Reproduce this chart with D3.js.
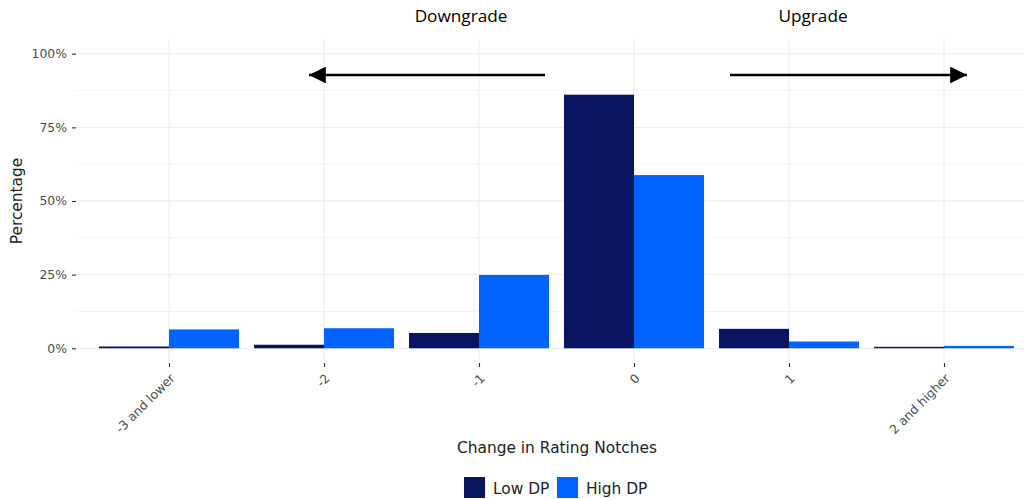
<!DOCTYPE html>
<html><head><meta charset="utf-8">
<script src="https://cdn.jsdelivr.net/npm/d3@7"></script>
<style>body{margin:0;background:#fff}svg{display:block}</style>
</head><body>
<svg id="c" width="1024" height="499"></svg>
<script>
const categories = ["-3 and lower","-2","-1","0","1","2 and higher"];
const series = ["Low DP","High DP"];
const lowDP  = [0.006, 0.012, 0.052, 0.861, 0.066, 0.005];
const highDP = [0.064, 0.068, 0.249, 0.588, 0.023, 0.008];
const yTicks = [0, 0.25, 0.5, 0.75, 1];
const yMinor = [0.125, 0.375, 0.625, 0.875];
const colors = ["#0b1461", "#0062ff"];

const svg = d3.select("#c");
const panel = {left:76, right:1024, top:39, bottom:363};
const x = d3.scalePoint().domain(categories).range([169, 944]);
const xs = d3.scaleBand().domain(series).range([-70, 70]);
const y = d3.scaleLinear().domain([-0.05, 1.05]).range([panel.bottom, panel.top]);
const col = d3.scaleOrdinal().domain(series).range(colors);

// grid
const g = svg.append("g");
g.selectAll(".minor").data(yMinor).join("line")
  .attr("x1", panel.left).attr("x2", panel.right)
  .attr("y1", d=>y(d)).attr("y2", d=>y(d))
  .attr("stroke", "#f4f4f4").attr("stroke-width", 1);
g.selectAll(".major").data(yTicks).join("line")
  .attr("x1", panel.left).attr("x2", panel.right)
  .attr("y1", d=>y(d)).attr("y2", d=>y(d))
  .attr("stroke", "#ebebeb").attr("stroke-width", 1);
g.selectAll(".vx").data(categories).join("line")
  .attr("x1", d=>x(d)).attr("x2", d=>x(d))
  .attr("y1", panel.top).attr("y2", panel.bottom)
  .attr("stroke", "#ebebeb").attr("stroke-width", 1);

// bars
const rows = categories.map((c,i)=>({cat:c, vals:[{s:"Low DP", v:lowDP[i]},{s:"High DP", v:highDP[i]}]}));
svg.append("g").selectAll("g").data(rows).join("g")
  .attr("transform", d=>`translate(${x(d.cat)},0)`)
  .selectAll("rect").data(d=>d.vals).join("rect")
  .attr("x", d=>xs(d.s)).attr("width", xs.bandwidth())
  .attr("y", d=>y(d.v)).attr("height", d=>y(0)-y(d.v))
  .attr("fill", d=>col(d.s));

// y axis
const yAxis = svg.append("g").attr("transform", `translate(${panel.left},0)`)
  .call(d3.axisLeft(y).tickValues(yTicks).tickFormat(d3.format(".0%")).tickSize(4).tickPadding(5));
yAxis.select(".domain").remove();
yAxis.selectAll("line").attr("stroke", "#333").attr("stroke-width", 1.1);
yAxis.selectAll("text").attr("fill", "#4d4d4d").style("font-family", "DejaVu Sans").style("font-size", "12.4px");

// x axis
const xAxis = svg.append("g").attr("transform", `translate(0,${panel.bottom})`)
  .call(d3.axisBottom(x).tickSize(4).tickPadding(3));
xAxis.select(".domain").remove();
xAxis.selectAll("line").attr("stroke", "#333").attr("stroke-width", 1.1);
xAxis.selectAll("text").attr("fill", "#4d4d4d").style("font-family", "DejaVu Sans").style("font-size", "12.4px")
  .attr("text-anchor", "end").attr("dy", "0.35em").attr("y", 0)
  .attr("transform", "translate(3,13) rotate(-45)");

// axis titles
svg.append("text").attr("x", 557).attr("y", 453).attr("text-anchor", "middle")
  .style("font-family", "DejaVu Sans").style("font-size", "15.4px").attr("fill", "#222")
  .text("Change in Rating Notches");
svg.append("text").attr("transform", "translate(22,201) rotate(-90)").attr("text-anchor", "middle")
  .style("font-family", "DejaVu Sans").style("font-size", "15.4px").attr("fill", "#222")
  .text("Percentage");

// legend
const legX = [464, 557];
const leg = svg.append("g").selectAll("g").data(series).join("g")
  .attr("transform", (d,i)=>`translate(${legX[i]},477)`);
leg.append("rect").attr("width", 21).attr("height", 21).attr("fill", d=>col(d));
leg.append("text").attr("x", 29).attr("y", 16.5)
  .style("font-family", "DejaVu Sans").style("font-size", "15.4px").attr("fill", "#222")
  .text(d=>d);

// annotations
const defs = svg.append("defs");
defs.append("marker").attr("id", "ah").attr("viewBox", "0 0 10 10").attr("refX", 10).attr("refY", 5)
  .attr("markerWidth", 7).attr("markerHeight", 7).attr("markerUnits", "strokeWidth").attr("orient", "auto")
  .append("path").attr("d", "M0,0 L10,5 L0,10 Z").attr("fill", "#000");
svg.append("line").attr("x1", 545).attr("x2", 309).attr("y1", 75).attr("y2", 75)
  .attr("stroke", "#000").attr("stroke-width", 2.4).attr("marker-end", "url(#ah)");
svg.append("line").attr("x1", 730).attr("x2", 967).attr("y1", 75).attr("y2", 75)
  .attr("stroke", "#000").attr("stroke-width", 2.4).attr("marker-end", "url(#ah)");
svg.append("text").attr("x", 461).attr("y", 22).attr("text-anchor", "middle")
  .style("font-family", "Open Sans").style("font-size", "17.2px").attr("fill", "#000").text("Downgrade");
svg.append("text").attr("x", 813).attr("y", 22).attr("text-anchor", "middle")
  .style("font-family", "Open Sans").style("font-size", "17.2px").attr("fill", "#000").text("Upgrade");
</script>
</body></html>
